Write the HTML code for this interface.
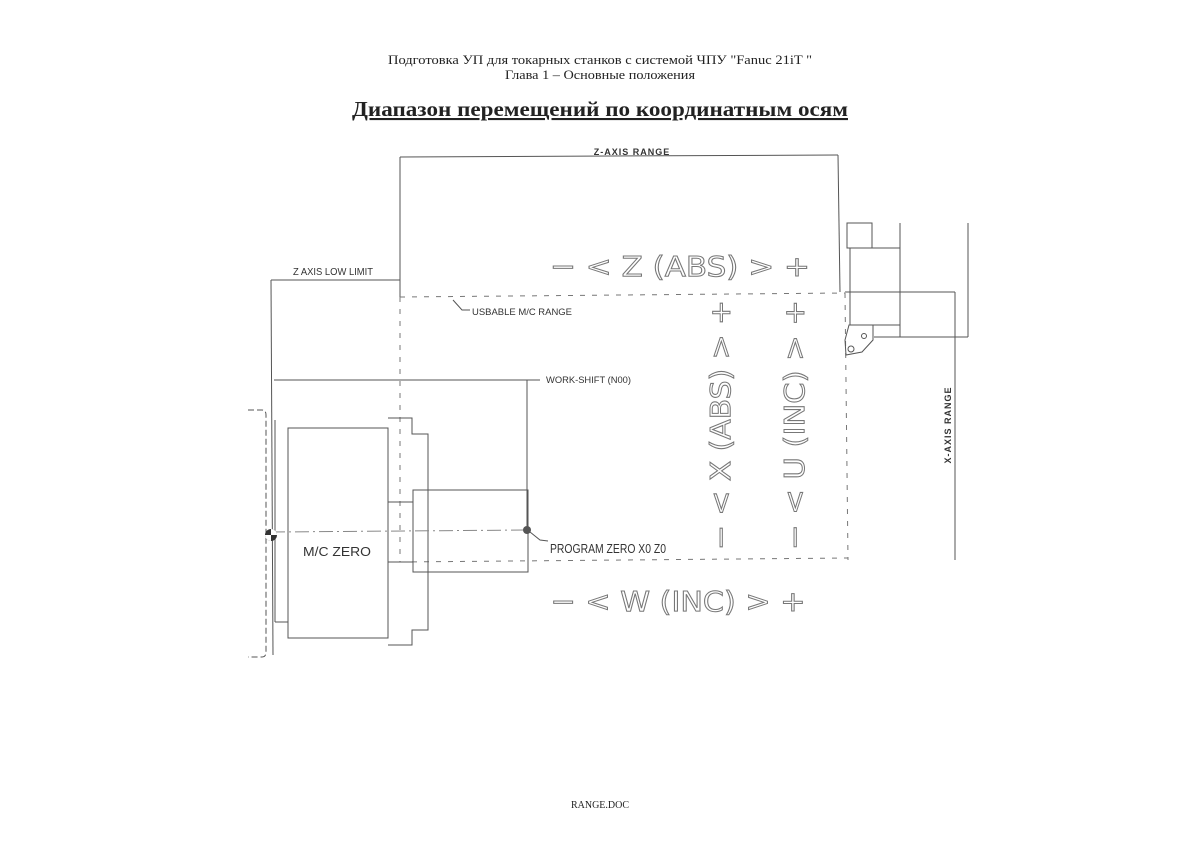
<!DOCTYPE html>
<html><head><meta charset="utf-8"><style>
body{margin:0;background:#fff;}
svg{display:block}
</style></head><body>
<svg width="1200" height="849" viewBox="0 0 1200 849" xmlns="http://www.w3.org/2000/svg">
<rect width="1200" height="849" fill="#fff"/>
<g font-family="Liberation Serif, serif" fill="#222" text-anchor="middle">
<text x="600" y="64" font-size="13" textLength="424" lengthAdjust="spacingAndGlyphs">Подготовка УП для токарных станков с системой ЧПУ "Fanuc 21iT "</text>
<text x="600" y="79" font-size="13" textLength="190" lengthAdjust="spacingAndGlyphs">Глава 1 – Основные положения</text>
<text x="600" y="116" font-size="21" font-weight="bold" text-decoration="underline" textLength="496" lengthAdjust="spacingAndGlyphs">Диапазон перемещений по координатным осям</text>
<text x="600" y="808" font-size="10">RANGE.DOC</text>
</g>
<g stroke="#555" stroke-width="1" fill="none">
<line x1="400" y1="157" x2="838" y2="155"/>
<line x1="400" y1="157" x2="400" y2="297"/>
<line x1="838" y1="155" x2="840" y2="292"/>
<line x1="271" y1="280" x2="400" y2="280"/>
<line x1="271" y1="280" x2="273" y2="655"/>
<g stroke-dasharray="5,7" stroke="#777">
<line x1="400" y1="297" x2="845" y2="293"/>
<line x1="400" y1="562" x2="848" y2="558"/>
<line x1="400" y1="297" x2="400" y2="562"/>
<line x1="845" y1="293" x2="848" y2="560"/>
</g>
<path d="M453 300 L462 310 L470 310"/>
<line x1="274" y1="380" x2="540" y2="380"/>
<line x1="527" y1="380" x2="527" y2="530"/>
<path d="M248 410 L262 410 Q266 410 266 415 L266 652 Q266 657 262 657 L248 657" stroke-dasharray="6,3"/>
<line x1="275" y1="420" x2="275" y2="622"/>
<line x1="275" y1="622" x2="288" y2="622"/>
<rect x="288" y="428" width="100" height="210"/>
<path d="M388 418 L412 418 L412 434 L428 434 L428 630 L412 630 L412 645 L388 645"/>
<line x1="388" y1="502" x2="413" y2="502"/>
<line x1="388" y1="562" x2="413" y2="562"/>
<rect x="413" y="490" width="115" height="82"/>
<line x1="271" y1="532" x2="527" y2="530" stroke-dasharray="14,4,2,4" stroke="#888"/>
<rect x="847" y="223" width="25" height="25"/>
<rect x="850" y="248" width="50" height="77"/>
<line x1="900" y1="223" x2="900" y2="337"/>
<line x1="968" y1="223" x2="968" y2="337"/>
<line x1="874" y1="337" x2="968" y2="337"/>
<path d="M849 325 L873 325 L873 340 L862 352 L846 355 L845 340 Z"/>
<circle cx="864" cy="336" r="2.5"/>
<circle cx="851" cy="349" r="3"/>
<line x1="845" y1="292" x2="955" y2="292"/>
<line x1="955" y1="292" x2="955" y2="560"/>
</g>
<circle cx="271" cy="535" r="6" fill="#333"/>
<path d="M271 529 A6 6 0 0 1 277 535 L271 535 Z M271 541 A6 6 0 0 1 265 535 L271 535 Z" fill="#fff"/>
<circle cx="527" cy="530" r="4" fill="#555"/>
<path d="M530 532 L540 540 L548 541" stroke="#555" fill="none"/>
<g font-family="Liberation Sans, sans-serif" fill="#333">
<text x="632" y="155" font-size="9" text-anchor="middle" font-weight="bold" letter-spacing="1">Z-AXIS RANGE</text>
<text x="293" y="275" font-size="10" textLength="80" lengthAdjust="spacingAndGlyphs">Z AXIS LOW LIMIT</text>
<text x="472" y="315" font-size="9" textLength="100" lengthAdjust="spacingAndGlyphs">USBABLE M/C RANGE</text>
<text x="546" y="383" font-size="9" textLength="85" lengthAdjust="spacingAndGlyphs">WORK-SHIFT (N00)</text>
<text x="303" y="556" font-size="13" textLength="68" lengthAdjust="spacingAndGlyphs">M/C ZERO</text>
<text x="550" y="553" font-size="13" textLength="116" lengthAdjust="spacingAndGlyphs">PROGRAM ZERO X0 Z0</text>
<text transform="translate(951,425) rotate(-90)" font-size="9" text-anchor="middle" font-weight="bold" letter-spacing="1">X-AXIS RANGE</text>
</g>
<g font-family="DejaVu Sans, sans-serif" fill="none" stroke="#777" stroke-width="1" font-size="28" text-anchor="middle">
<text x="680" y="276" textLength="260" lengthAdjust="spacingAndGlyphs">− &lt; Z (ABS) &gt; +</text>
<text x="678" y="611" textLength="255" lengthAdjust="spacingAndGlyphs">− &lt; W (INC) &gt; +</text>
<text transform="translate(730,425) rotate(-90)" textLength="250" lengthAdjust="spacingAndGlyphs">− &lt; X (ABS) &gt; +</text>
<text transform="translate(804,425) rotate(-90)" textLength="250" lengthAdjust="spacingAndGlyphs">− &lt; U (INC) &gt; +</text>
</g>
</svg>
</body></html>
